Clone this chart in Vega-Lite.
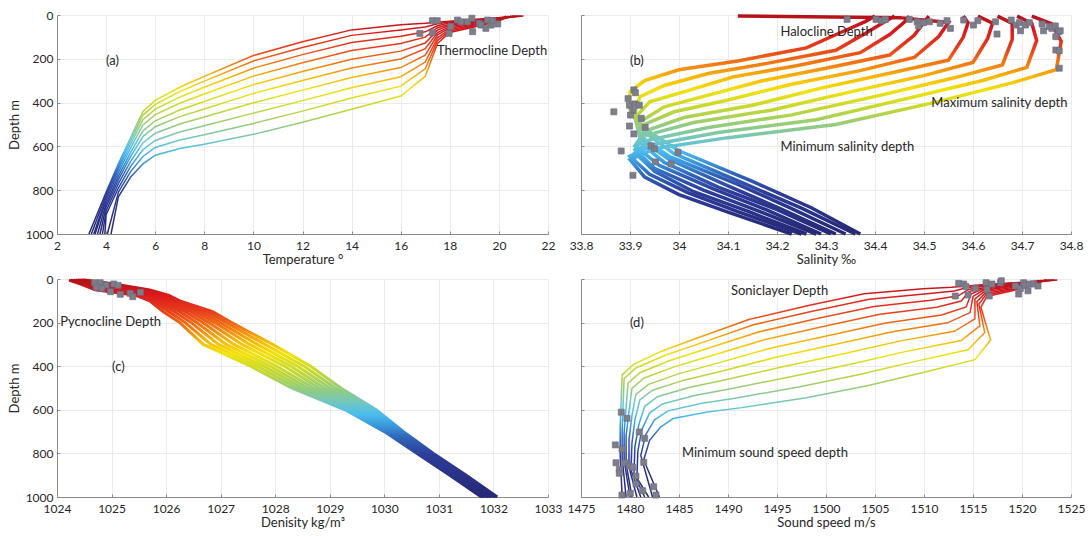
{
"$schema": "https://vega.github.io/schema/vega-lite/v6.json",
"background": "white",
"padding": {"left": 8, "top": 9, "right": 5, "bottom": 5},
"config": {
  "view": {"stroke": null},
  "font": "Lato",
  "axis": {"domainColor": "#8a8a8a", "tickColor": "#8a8a8a", "gridColor": "#ebebeb", "tickSize": -3,
           "labelFont": "Lato", "labelFontSize": 12, "labelColor": "#262626",
           "titleFont": "Lato", "titleFontSize": 13, "titleFontWeight": "normal", "titleColor": "#262626",
           "labelOverlap": false, "labelFlush": false}
},
"datasets": {
"ts": [
{"p":0,"d":5,"T":20.9,"C":1523.3},{"p":0,"d":12,"T":20,"C":1521.0},{"p":0,"d":20,"T":19,"C":1518.3},{"p":0,"d":28,"T":18,"C":1515.6},{"p":0,"d":33,"T":17.5,"C":1514.2},{"p":0,"d":38,"T":17,"C":1512.8},{"p":0,"d":45,"T":16,"C":1509.9},{"p":0,"d":68,"T":14,"C":1503.9},{"p":0,"d":122,"T":12,"C":1498.2},{"p":0,"d":185,"T":10,"C":1492.2},{"p":0,"d":280,"T":8,"C":1486.3},{"p":0,"d":330,"T":7,"C":1483.3},{"p":0,"d":390,"T":6,"C":1480.4},{"p":0,"d":440,"T":5.5,"C":1479.2},{"p":0,"d":560,"T":5,"C":1479.1},{"p":0,"d":680,"T":4.5,"C":1479.0},{"p":0,"d":810,"T":4,"C":1479.0},{"p":0,"d":1000,"T":3.3,"C":1479.2},
{"p":1,"d":5,"T":20.7,"C":1522.8},{"p":1,"d":13,"T":20,"C":1521.0},{"p":1,"d":22,"T":19,"C":1518.4},{"p":1,"d":32,"T":18,"C":1515.7},{"p":1,"d":40,"T":17.5,"C":1514.3},{"p":1,"d":55,"T":17,"C":1513.1},{"p":1,"d":68,"T":16,"C":1510.3},{"p":1,"d":93,"T":14,"C":1504.4},{"p":1,"d":148,"T":12,"C":1498.6},{"p":1,"d":210,"T":10,"C":1492.6},{"p":1,"d":302,"T":8,"C":1486.7},{"p":1,"d":350,"T":7,"C":1483.6},{"p":1,"d":408,"T":6,"C":1480.6},{"p":1,"d":457,"T":5.5,"C":1479.4},{"p":1,"d":573,"T":5,"C":1479.3},{"p":1,"d":691,"T":4.5,"C":1479.2},{"p":1,"d":820,"T":4,"C":1479.2},{"p":1,"d":1000,"T":3.4,"C":1479.6},
{"p":2,"d":5,"T":21.0,"C":1523.6},{"p":2,"d":15,"T":20,"C":1521.0},{"p":2,"d":26,"T":19,"C":1518.4},{"p":2,"d":36,"T":18,"C":1515.7},{"p":2,"d":49,"T":17.5,"C":1514.5},{"p":2,"d":77,"T":17,"C":1513.5},{"p":2,"d":97,"T":16,"C":1510.7},{"p":2,"d":126,"T":14,"C":1504.9},{"p":2,"d":181,"T":12,"C":1499.1},{"p":2,"d":243,"T":10,"C":1493.1},{"p":2,"d":330,"T":8,"C":1487.1},{"p":2,"d":375,"T":7,"C":1484.0},{"p":2,"d":430,"T":6,"C":1481.0},{"p":2,"d":478,"T":5.5,"C":1479.8},{"p":2,"d":589,"T":5,"C":1479.6},{"p":2,"d":704,"T":4.5,"C":1479.4},{"p":2,"d":832,"T":4,"C":1479.4},{"p":2,"d":1000,"T":3.5,"C":1480.0},
{"p":3,"d":5,"T":20.6,"C":1522.5},{"p":3,"d":16,"T":20,"C":1521.1},{"p":3,"d":29,"T":19,"C":1518.5},{"p":3,"d":42,"T":18,"C":1515.8},{"p":3,"d":58,"T":17.5,"C":1514.6},{"p":3,"d":101,"T":17,"C":1513.8},{"p":3,"d":130,"T":16,"C":1511.3},{"p":3,"d":162,"T":14,"C":1505.5},{"p":3,"d":218,"T":12,"C":1499.7},{"p":3,"d":279,"T":10,"C":1493.7},{"p":3,"d":361,"T":8,"C":1487.6},{"p":3,"d":403,"T":7,"C":1484.5},{"p":3,"d":455,"T":6,"C":1481.4},{"p":3,"d":502,"T":5.5,"C":1480.2},{"p":3,"d":607,"T":5,"C":1479.9},{"p":3,"d":719,"T":4.5,"C":1479.6},{"p":3,"d":846,"T":4,"C":1479.6},{"p":3,"d":1000,"T":3.55,"C":1480.2},
{"p":4,"d":5,"T":20.8,"C":1523.1},{"p":4,"d":18,"T":20,"C":1521.1},{"p":4,"d":33,"T":19,"C":1518.6},{"p":4,"d":47,"T":18,"C":1515.9},{"p":4,"d":69,"T":17.5,"C":1514.8},{"p":4,"d":128,"T":17,"C":1514.3},{"p":4,"d":165,"T":16,"C":1511.8},{"p":4,"d":202,"T":14,"C":1506.1},{"p":4,"d":258,"T":12,"C":1500.4},{"p":4,"d":318,"T":10,"C":1494.3},{"p":4,"d":395,"T":8,"C":1488.2},{"p":4,"d":434,"T":7,"C":1485.0},{"p":4,"d":483,"T":6,"C":1481.9},{"p":4,"d":529,"T":5.5,"C":1480.6},{"p":4,"d":627,"T":5,"C":1480.2},{"p":4,"d":736,"T":4.5,"C":1479.9},{"p":4,"d":862,"T":4,"C":1479.9},{"p":4,"d":1000,"T":3.65,"C":1480.7},
{"p":5,"d":5,"T":20.4,"C":1522.0},{"p":5,"d":20,"T":20,"C":1521.1},{"p":5,"d":37,"T":19,"C":1518.6},{"p":5,"d":53,"T":18,"C":1516.0},{"p":5,"d":80,"T":17.5,"C":1515.0},{"p":5,"d":154,"T":17,"C":1514.7},{"p":5,"d":201,"T":16,"C":1512.4},{"p":5,"d":242,"T":14,"C":1506.8},{"p":5,"d":299,"T":12,"C":1501.0},{"p":5,"d":358,"T":10,"C":1495.0},{"p":5,"d":429,"T":8,"C":1488.8},{"p":5,"d":464,"T":7,"C":1485.5},{"p":5,"d":510,"T":6,"C":1482.3},{"p":5,"d":555,"T":5.5,"C":1481.0},{"p":5,"d":646,"T":5,"C":1480.5},{"p":5,"d":752,"T":4.5,"C":1480.2},{"p":5,"d":877,"T":4,"C":1480.1},{"p":5,"d":1000,"T":3.75,"C":1481.1},
{"p":6,"d":5,"T":20.6,"C":1522.5},{"p":6,"d":22,"T":20,"C":1521.2},{"p":6,"d":41,"T":19,"C":1518.7},{"p":6,"d":59,"T":18,"C":1516.1},{"p":6,"d":91,"T":17.5,"C":1515.2},{"p":6,"d":183,"T":17,"C":1515.2},{"p":6,"d":240,"T":16,"C":1513.1},{"p":6,"d":285,"T":14,"C":1507.5},{"p":6,"d":343,"T":12,"C":1501.8},{"p":6,"d":401,"T":10,"C":1495.7},{"p":6,"d":466,"T":8,"C":1489.4},{"p":6,"d":498,"T":7,"C":1486.0},{"p":6,"d":540,"T":6,"C":1482.8},{"p":6,"d":584,"T":5.5,"C":1481.5},{"p":6,"d":668,"T":5,"C":1480.9},{"p":6,"d":770,"T":4.5,"C":1480.5},{"p":6,"d":894,"T":4,"C":1480.4},{"p":6,"d":1000,"T":3.85,"C":1481.5},
{"p":7,"d":5,"T":20.3,"C":1521.7},{"p":7,"d":24,"T":20,"C":1521.2},{"p":7,"d":46,"T":19,"C":1518.8},{"p":7,"d":66,"T":18,"C":1516.2},{"p":7,"d":104,"T":17.5,"C":1515.4},{"p":7,"d":215,"T":17,"C":1515.7},{"p":7,"d":282,"T":16,"C":1513.8},{"p":7,"d":332,"T":14,"C":1508.2},{"p":7,"d":391,"T":12,"C":1502.5},{"p":7,"d":448,"T":10,"C":1496.4},{"p":7,"d":506,"T":8,"C":1490.0},{"p":7,"d":534,"T":7,"C":1486.6},{"p":7,"d":573,"T":6,"C":1483.3},{"p":7,"d":615,"T":5.5,"C":1482.0},{"p":7,"d":691,"T":5,"C":1481.2},{"p":7,"d":790,"T":4.5,"C":1480.8},{"p":7,"d":912,"T":4,"C":1480.7},{"p":7,"d":1000,"T":3.95,"C":1481.9},
{"p":8,"d":5,"T":20.5,"C":1522.3},{"p":8,"d":26,"T":20,"C":1521.2},{"p":8,"d":50,"T":19,"C":1518.8},{"p":8,"d":73,"T":18,"C":1516.3},{"p":8,"d":116,"T":17.5,"C":1515.6},{"p":8,"d":246,"T":17,"C":1516.2},{"p":8,"d":325,"T":16,"C":1514.5},{"p":8,"d":379,"T":14,"C":1509.0},{"p":8,"d":439,"T":12,"C":1503.3},{"p":8,"d":495,"T":10,"C":1497.2},{"p":8,"d":547,"T":8,"C":1490.7},{"p":8,"d":571,"T":7,"C":1487.2},{"p":8,"d":605,"T":6,"C":1483.9},{"p":8,"d":646,"T":5.5,"C":1482.5},{"p":8,"d":715,"T":5,"C":1481.6},{"p":8,"d":809,"T":4.5,"C":1481.1},{"p":8,"d":1000,"T":4.05,"C":1482.3},
{"p":9,"d":5,"T":20.3,"C":1521.7},{"p":9,"d":28,"T":20,"C":1521.3},{"p":9,"d":55,"T":19,"C":1518.9},{"p":9,"d":80,"T":18,"C":1516.4},{"p":9,"d":130,"T":17.5,"C":1515.8},{"p":9,"d":280,"T":17,"C":1516.8},{"p":9,"d":370,"T":16,"C":1515.2},{"p":9,"d":430,"T":14,"C":1509.8},{"p":9,"d":490,"T":12,"C":1504.2},{"p":9,"d":545,"T":10,"C":1498.0},{"p":9,"d":590,"T":8,"C":1491.4},{"p":9,"d":610,"T":7,"C":1487.9},{"p":9,"d":640,"T":6,"C":1484.4},{"p":9,"d":680,"T":5.5,"C":1483.1},{"p":9,"d":740,"T":5,"C":1482.0},{"p":9,"d":830,"T":4.5,"C":1481.4},{"p":9,"d":1000,"T":4.2,"C":1483.0}
],
"sal": [
{"p":0,"d":5,"S":34.4},{"p":0,"d":30,"S":34.38},{"p":0,"d":80,"S":34.33},{"p":0,"d":150,"S":34.26},{"p":0,"d":210,"S":34.12},{"p":0,"d":250,"S":34.0},{"p":0,"d":300,"S":33.93},{"p":0,"d":350,"S":33.9},{"p":0,"d":430,"S":33.9},{"p":0,"d":520,"S":33.93},{"p":0,"d":620,"S":34.0},{"p":0,"d":760,"S":34.15},{"p":0,"d":880,"S":34.27},{"p":0,"d":1000,"S":34.37},
{"p":1,"d":5,"S":34.44},{"p":1,"d":31,"S":34.42},{"p":1,"d":84,"S":34.38},{"p":1,"d":161,"S":34.32},{"p":1,"d":221,"S":34.18},{"p":1,"d":267,"S":34.06},{"p":1,"d":322,"S":33.97},{"p":1,"d":373,"S":33.92},{"p":1,"d":450,"S":33.91},{"p":1,"d":535,"S":33.93},{"p":1,"d":633,"S":33.99},{"p":1,"d":767,"S":34.13},{"p":1,"d":882,"S":34.25},{"p":1,"d":1000,"S":34.36},
{"p":2,"d":5,"S":34.47},{"p":2,"d":32,"S":34.46},{"p":2,"d":89,"S":34.43},{"p":2,"d":172,"S":34.37},{"p":2,"d":232,"S":34.24},{"p":2,"d":283,"S":34.11},{"p":2,"d":344,"S":34.02},{"p":2,"d":396,"S":33.94},{"p":2,"d":470,"S":33.91},{"p":2,"d":551,"S":33.92},{"p":2,"d":646,"S":33.98},{"p":2,"d":773,"S":34.12},{"p":2,"d":884,"S":34.23},{"p":2,"d":1000,"S":34.34},
{"p":3,"d":5,"S":34.51},{"p":3,"d":33,"S":34.5},{"p":3,"d":93,"S":34.48},{"p":3,"d":183,"S":34.43},{"p":3,"d":243,"S":34.3},{"p":3,"d":300,"S":34.17},{"p":3,"d":366,"S":34.06},{"p":3,"d":419,"S":33.97},{"p":3,"d":489,"S":33.92},{"p":3,"d":566,"S":33.92},{"p":3,"d":660,"S":33.98},{"p":3,"d":780,"S":34.1},{"p":3,"d":887,"S":34.21},{"p":3,"d":1000,"S":34.32},
{"p":4,"d":5,"S":34.12},{"p":4,"d":12,"S":34.45},{"p":4,"d":34,"S":34.55},{"p":4,"d":98,"S":34.53},{"p":4,"d":194,"S":34.48},{"p":4,"d":254,"S":34.37},{"p":4,"d":316,"S":34.23},{"p":4,"d":388,"S":34.1},{"p":4,"d":442,"S":33.99},{"p":4,"d":509,"S":33.92},{"p":4,"d":582,"S":33.92},{"p":4,"d":673,"S":33.97},{"p":4,"d":786,"S":34.08},{"p":4,"d":889,"S":34.2},{"p":4,"d":1000,"S":34.31},
{"p":5,"d":5,"S":34.58},{"p":5,"d":36,"S":34.59},{"p":5,"d":102,"S":34.58},{"p":5,"d":206,"S":34.55},{"p":5,"d":266,"S":34.43},{"p":5,"d":334,"S":34.29},{"p":5,"d":412,"S":34.15},{"p":5,"d":468,"S":34.01},{"p":5,"d":531,"S":33.93},{"p":5,"d":598,"S":33.91},{"p":5,"d":687,"S":33.96},{"p":5,"d":794,"S":34.07},{"p":5,"d":891,"S":34.18},{"p":5,"d":1000,"S":34.29},
{"p":6,"d":5,"S":34.61},{"p":6,"d":37,"S":34.64},{"p":6,"d":107,"S":34.63},{"p":6,"d":217,"S":34.6},{"p":6,"d":277,"S":34.5},{"p":6,"d":351,"S":34.35},{"p":6,"d":434,"S":34.19},{"p":6,"d":491,"S":34.03},{"p":6,"d":551,"S":33.93},{"p":6,"d":614,"S":33.91},{"p":6,"d":700,"S":33.95},{"p":6,"d":800,"S":34.05},{"p":6,"d":893,"S":34.16},{"p":6,"d":1000,"S":34.28},
{"p":7,"d":5,"S":34.65},{"p":7,"d":38,"S":34.68},{"p":7,"d":111,"S":34.68},{"p":7,"d":228,"S":34.66},{"p":7,"d":288,"S":34.56},{"p":7,"d":367,"S":34.41},{"p":7,"d":456,"S":34.23},{"p":7,"d":514,"S":34.06},{"p":7,"d":570,"S":33.94},{"p":7,"d":629,"S":33.91},{"p":7,"d":714,"S":33.95},{"p":7,"d":807,"S":34.03},{"p":7,"d":896,"S":34.14},{"p":7,"d":1000,"S":34.26},
{"p":8,"d":5,"S":34.69},{"p":8,"d":39,"S":34.72},{"p":8,"d":116,"S":34.73},{"p":8,"d":239,"S":34.71},{"p":8,"d":299,"S":34.62},{"p":8,"d":384,"S":34.46},{"p":8,"d":478,"S":34.28},{"p":8,"d":537,"S":34.08},{"p":8,"d":590,"S":33.95},{"p":8,"d":645,"S":33.9},{"p":8,"d":727,"S":33.94},{"p":8,"d":813,"S":34.02},{"p":8,"d":898,"S":34.12},{"p":8,"d":1000,"S":34.25},
{"p":9,"d":5,"S":34.72},{"p":9,"d":40,"S":34.76},{"p":9,"d":120,"S":34.78},{"p":9,"d":250,"S":34.77},{"p":9,"d":310,"S":34.68},{"p":9,"d":400,"S":34.52},{"p":9,"d":500,"S":34.32},{"p":9,"d":560,"S":34.1},{"p":9,"d":610,"S":33.95},{"p":9,"d":660,"S":33.9},{"p":9,"d":740,"S":33.93},{"p":9,"d":820,"S":34.0},{"p":9,"d":900,"S":34.1},{"p":9,"d":1000,"S":34.23}
],
"den": [
{"p":0,"d":5,"D":1024.5},{"p":0,"d":25,"D":1025.1},{"p":0,"d":50,"D":1025.7},{"p":0,"d":75,"D":1026.05},{"p":0,"d":100,"D":1026.25},{"p":0,"d":150,"D":1026.85},{"p":0,"d":200,"D":1027.2},{"p":0,"d":300,"D":1027.95},{"p":0,"d":400,"D":1028.65},{"p":0,"d":500,"D":1029.2},{"p":0,"d":600,"D":1029.85},{"p":0,"d":700,"D":1030.35},{"p":0,"d":800,"D":1030.9},{"p":0,"d":900,"D":1031.5},{"p":0,"d":1000,"D":1032.07},
{"p":1,"d":5,"D":1024.47},{"p":1,"d":25,"D":1025.03},{"p":1,"d":50,"D":1025.59},{"p":1,"d":75,"D":1025.98},{"p":1,"d":100,"D":1026.19},{"p":1,"d":150,"D":1026.75},{"p":1,"d":200,"D":1027.1},{"p":1,"d":300,"D":1027.81},{"p":1,"d":400,"D":1028.53},{"p":1,"d":500,"D":1029.1},{"p":1,"d":600,"D":1029.79},{"p":1,"d":700,"D":1030.31},{"p":1,"d":800,"D":1030.87},{"p":1,"d":900,"D":1031.47},{"p":1,"d":1000,"D":1032.04},
{"p":2,"d":5,"D":1024.44},{"p":2,"d":25,"D":1024.96},{"p":2,"d":50,"D":1025.48},{"p":2,"d":75,"D":1025.92},{"p":2,"d":100,"D":1026.13},{"p":2,"d":150,"D":1026.65},{"p":2,"d":200,"D":1026.99},{"p":2,"d":300,"D":1027.67},{"p":2,"d":400,"D":1028.41},{"p":2,"d":500,"D":1029.0},{"p":2,"d":600,"D":1029.72},{"p":2,"d":700,"D":1030.27},{"p":2,"d":800,"D":1030.83},{"p":2,"d":900,"D":1031.43},{"p":2,"d":1000,"D":1032.01},
{"p":3,"d":5,"D":1024.41},{"p":3,"d":25,"D":1024.89},{"p":3,"d":50,"D":1025.37},{"p":3,"d":75,"D":1025.85},{"p":3,"d":100,"D":1026.07},{"p":3,"d":150,"D":1026.55},{"p":3,"d":200,"D":1026.89},{"p":3,"d":300,"D":1027.53},{"p":3,"d":400,"D":1028.29},{"p":3,"d":500,"D":1028.9},{"p":3,"d":600,"D":1029.66},{"p":3,"d":700,"D":1030.23},{"p":3,"d":800,"D":1030.8},{"p":3,"d":900,"D":1031.4},{"p":3,"d":1000,"D":1031.97},
{"p":4,"d":5,"D":1024.38},{"p":4,"d":25,"D":1024.81},{"p":4,"d":50,"D":1025.26},{"p":4,"d":75,"D":1025.79},{"p":4,"d":100,"D":1026.01},{"p":4,"d":150,"D":1026.45},{"p":4,"d":200,"D":1026.78},{"p":4,"d":300,"D":1027.39},{"p":4,"d":400,"D":1028.17},{"p":4,"d":500,"D":1028.8},{"p":4,"d":600,"D":1029.6},{"p":4,"d":700,"D":1030.2},{"p":4,"d":800,"D":1030.77},{"p":4,"d":900,"D":1031.37},{"p":4,"d":1000,"D":1031.94},
{"p":5,"d":5,"D":1024.34},{"p":5,"d":25,"D":1024.74},{"p":5,"d":50,"D":1025.14},{"p":5,"d":75,"D":1025.71},{"p":5,"d":100,"D":1025.94},{"p":5,"d":150,"D":1026.35},{"p":5,"d":200,"D":1026.67},{"p":5,"d":300,"D":1027.24},{"p":5,"d":400,"D":1028.03},{"p":5,"d":500,"D":1028.7},{"p":5,"d":600,"D":1029.53},{"p":5,"d":700,"D":1030.15},{"p":5,"d":800,"D":1030.73},{"p":5,"d":900,"D":1031.33},{"p":5,"d":1000,"D":1031.91},
{"p":6,"d":5,"D":1024.31},{"p":6,"d":25,"D":1024.66},{"p":6,"d":50,"D":1025.03},{"p":6,"d":75,"D":1025.65},{"p":6,"d":100,"D":1025.88},{"p":6,"d":150,"D":1026.25},{"p":6,"d":200,"D":1026.56},{"p":6,"d":300,"D":1027.1},{"p":6,"d":400,"D":1027.91},{"p":6,"d":500,"D":1028.6},{"p":6,"d":600,"D":1029.47},{"p":6,"d":700,"D":1030.12},{"p":6,"d":800,"D":1030.7},{"p":6,"d":900,"D":1031.3},{"p":6,"d":1000,"D":1031.88},
{"p":7,"d":5,"D":1024.28},{"p":7,"d":25,"D":1024.59},{"p":7,"d":50,"D":1024.92},{"p":7,"d":75,"D":1025.58},{"p":7,"d":100,"D":1025.82},{"p":7,"d":150,"D":1026.15},{"p":7,"d":200,"D":1026.46},{"p":7,"d":300,"D":1026.96},{"p":7,"d":400,"D":1027.79},{"p":7,"d":500,"D":1028.5},{"p":7,"d":600,"D":1029.41},{"p":7,"d":700,"D":1030.08},{"p":7,"d":800,"D":1030.67},{"p":7,"d":900,"D":1031.27},{"p":7,"d":1000,"D":1031.84},
{"p":8,"d":5,"D":1024.25},{"p":8,"d":25,"D":1024.52},{"p":8,"d":50,"D":1024.81},{"p":8,"d":75,"D":1025.52},{"p":8,"d":100,"D":1025.76},{"p":8,"d":150,"D":1026.05},{"p":8,"d":200,"D":1026.35},{"p":8,"d":300,"D":1026.82},{"p":8,"d":400,"D":1027.67},{"p":8,"d":500,"D":1028.4},{"p":8,"d":600,"D":1029.34},{"p":8,"d":700,"D":1030.04},{"p":8,"d":800,"D":1030.63},{"p":8,"d":900,"D":1031.23},{"p":8,"d":1000,"D":1031.81},
{"p":9,"d":5,"D":1024.22},{"p":9,"d":25,"D":1024.45},{"p":9,"d":50,"D":1024.7},{"p":9,"d":75,"D":1025.45},{"p":9,"d":100,"D":1025.7},{"p":9,"d":150,"D":1025.95},{"p":9,"d":200,"D":1026.25},{"p":9,"d":300,"D":1026.68},{"p":9,"d":400,"D":1027.55},{"p":9,"d":500,"D":1028.3},{"p":9,"d":600,"D":1029.28},{"p":9,"d":700,"D":1030.0},{"p":9,"d":800,"D":1030.6},{"p":9,"d":900,"D":1031.2},{"p":9,"d":1000,"D":1031.78}
],
"mk": [
{"g":"a","x":17.29,"d":26},{"g":"a","x":17.49,"d":26},{"g":"a","x":17.29,"d":81},{"g":"a","x":16.78,"d":84},{"g":"a","x":17.97,"d":84},{"g":"a","x":18.04,"d":53},{"g":"a","x":18.31,"d":23},{"g":"a","x":18.45,"d":31},{"g":"a","x":18.72,"d":31},{"g":"a","x":18.9,"d":15},{"g":"a","x":18.93,"d":76},{"g":"a","x":19.2,"d":38},{"g":"a","x":19.27,"d":46},{"g":"a","x":19.47,"d":61},{"g":"a","x":19.54,"d":23},{"g":"a","x":19.68,"d":46},{"g":"a","x":19.75,"d":26},{"g":"a","x":19.95,"d":41},
{"g":"b","x":33.908,"d":342},{"g":"b","x":33.911,"d":355},{"g":"b","x":33.896,"d":382},{"g":"b","x":33.899,"d":412},{"g":"b","x":33.91,"d":406},{"g":"b","x":33.919,"d":412},{"g":"b","x":33.906,"d":437},{"g":"b","x":33.901,"d":457},{"g":"b","x":33.867,"d":442},{"g":"b","x":33.923,"d":472},{"g":"b","x":33.931,"d":513},{"g":"b","x":33.899,"d":507},{"g":"b","x":33.908,"d":543},{"g":"b","x":33.943,"d":598},{"g":"b","x":33.95,"d":611},{"g":"b","x":33.882,"d":621},{"g":"b","x":33.998,"d":627},{"g":"b","x":33.952,"d":671},{"g":"b","x":33.984,"d":680},{"g":"b","x":33.906,"d":732},
{"g":"b","x":34.343,"d":20},{"g":"b","x":34.402,"d":20},{"g":"b","x":34.413,"d":26},{"g":"b","x":34.421,"d":20},{"g":"b","x":34.47,"d":20},{"g":"b","x":34.486,"d":31},{"g":"b","x":34.489,"d":50},{"g":"b","x":34.499,"d":35},{"g":"b","x":34.511,"d":31},{"g":"b","x":34.533,"d":38},{"g":"b","x":34.547,"d":26},{"g":"b","x":34.554,"d":61},{"g":"b","x":34.581,"d":23},{"g":"b","x":34.601,"d":46},{"g":"b","x":34.61,"d":26},{"g":"b","x":34.646,"d":31},{"g":"b","x":34.649,"d":87},{"g":"b","x":34.678,"d":23},{"g":"b","x":34.688,"d":46},{"g":"b","x":34.695,"d":35},{"g":"b","x":34.697,"d":72},{"g":"b","x":34.707,"d":46},{"g":"b","x":34.715,"d":35},{"g":"b","x":34.741,"d":41},{"g":"b","x":34.744,"d":72},{"g":"b","x":34.756,"d":53},{"g":"b","x":34.761,"d":61},{"g":"b","x":34.768,"d":50},{"g":"b","x":34.775,"d":76},{"g":"b","x":34.778,"d":72},{"g":"b","x":34.769,"d":99},{"g":"b","x":34.769,"d":160},{"g":"b","x":34.776,"d":163},{"g":"b","x":34.776,"d":243},
{"g":"c","x":1024.69,"d":17},{"g":"c","x":1024.79,"d":17},{"g":"c","x":1024.72,"d":38},{"g":"c","x":1024.9,"d":28},{"g":"c","x":1025.04,"d":23},{"g":"c","x":1025.12,"d":29},{"g":"c","x":1024.82,"d":43},{"g":"c","x":1024.98,"d":58},{"g":"c","x":1025.16,"d":70},{"g":"c","x":1025.34,"d":66},{"g":"c","x":1025.39,"d":81},{"g":"c","x":1025.53,"d":61},
{"g":"d","x":1513.54,"d":20},{"g":"d","x":1514.05,"d":23},{"g":"d","x":1514.29,"d":35},{"g":"d","x":1513.19,"d":78},{"g":"d","x":1514.49,"d":73},{"g":"d","x":1515.23,"d":43},{"g":"d","x":1516.33,"d":17},{"g":"d","x":1516.43,"d":47},{"g":"d","x":1516.66,"d":78},{"g":"d","x":1516.94,"d":23},{"g":"d","x":1517.79,"d":17},{"g":"d","x":1517.89,"d":8},{"g":"d","x":1519.32,"d":32},{"g":"d","x":1519.66,"d":69},{"g":"d","x":1519.83,"d":43},{"g":"d","x":1520.17,"d":17},{"g":"d","x":1520.34,"d":28},{"g":"d","x":1520.61,"d":54},{"g":"d","x":1520.74,"d":23},{"g":"d","x":1521.19,"d":23},{"g":"d","x":1521.63,"d":32},
{"g":"d","x":1479.11,"d":611},{"g":"d","x":1479.69,"d":639},{"g":"d","x":1480.95,"d":702},{"g":"d","x":1481.5,"d":731},{"g":"d","x":1478.5,"d":761},{"g":"d","x":1479.18,"d":780},{"g":"d","x":1478.57,"d":843},{"g":"d","x":1479.46,"d":843},{"g":"d","x":1479.93,"d":858},{"g":"d","x":1480.28,"d":864},{"g":"d","x":1478.91,"d":873},{"g":"d","x":1481.4,"d":841},{"g":"d","x":1480.61,"d":904},{"g":"d","x":1478.91,"d":891},{"g":"d","x":1480.61,"d":940},{"g":"d","x":1480.03,"d":983},{"g":"d","x":1481.3,"d":971},{"g":"d","x":1482.42,"d":953},{"g":"d","x":1482.65,"d":991},{"g":"d","x":1479.18,"d":991}
],
"txt": [
{"g":"a","x":4.0,"d":210,"t":"(a)"},{"g":"a","x":17.48,"d":164,"t":"Thermocline Depth"},
{"g":"b","x":33.9,"d":210,"t":"(b)"},{"g":"b","x":34.207,"d":76,"t":"Halocline Depth"},{"g":"b","x":34.515,"d":403,"t":"Maximum salinity depth"},{"g":"b","x":34.207,"d":604,"t":"Minimum salinity depth"},
{"g":"c","x":1024.06,"d":196,"t":"Pycnocline Depth"},{"g":"c","x":1025.01,"d":405,"t":"(c)"},
{"g":"d","x":1490.3,"d":54,"t":"Soniclayer Depth"},{"g":"d","x":1480.0,"d":200,"t":"(d)"},{"g":"d","x":1485.3,"d":800,"t":"Minimum sound speed depth"}
]
},
"bounds": "flush",
"columns": 2,
"spacing": {"row": 45, "column": 33},
"concat": [
 {"width": 491, "height": 219, "layer": [
  {"data": {"name": "ts"}, "mark": {"type": "line", "strokeWidth": 1.5, "stroke": {"gradient": "linear", "x1": 0, "y1": 0, "x2": 0, "y2": 1, "stops": [{"offset": 0, "color": "#b41218"}, {"offset": 0.07, "color": "#dc1a1c"}, {"offset": 0.15, "color": "#e8401a"}, {"offset": 0.22, "color": "#f27b12"}, {"offset": 0.28, "color": "#f7b808"}, {"offset": 0.34, "color": "#f2e20a"}, {"offset": 0.42, "color": "#c6d82e"}, {"offset": 0.5, "color": "#94cc7c"}, {"offset": 0.57, "color": "#6ec6c6"}, {"offset": 0.62, "color": "#4cbcec"}, {"offset": 0.67, "color": "#3a98dc"}, {"offset": 0.73, "color": "#3062b8"}, {"offset": 0.81, "color": "#2c3c98"}, {"offset": 1, "color": "#272775"}]}},
   "encoding": {
    "x": {"field": "T", "type": "quantitative", "scale": {"domain": [2, 22], "nice": false, "zero": false}, "axis": {"values": [2,4,6,8,10,12,14,16,18,20,22], "format": "d", "title": "Temperature °", "labelPadding": 9, "titlePadding": 2}},
    "y": {"field": "d", "type": "quantitative", "scale": {"domain": [0, 1000], "reverse": true, "nice": false, "zero": false}, "axis": {"values": [0,200,400,600,800,1000], "format": "d", "title": "Depth m", "labelPadding": 7, "titlePadding": 4}},
    "detail": {"field": "p", "type": "nominal"}, "order": {"field": "d", "type": "quantitative"}}},
  {"data": {"name": "mk"}, "transform": [{"filter": "datum.g == 'a'"}], "mark": {"type": "square", "size": 36, "fill": "#7f7f7f", "stroke": "#6a6a9c", "strokeWidth": 0.7, "opacity": 1},
   "encoding": {"x": {"field": "x", "type": "quantitative"}, "y": {"field": "d", "type": "quantitative"}}},
  {"data": {"name": "txt"}, "transform": [{"filter": "datum.g == 'a'"}], "mark": {"type": "text", "align": "left", "baseline": "middle", "font": "Lato", "fontSize": 13, "color": "#262626"},
   "encoding": {"x": {"field": "x", "type": "quantitative"}, "y": {"field": "d", "type": "quantitative"}, "text": {"field": "t"}}}
 ]},
 {"width": 490, "height": 219, "layer": [
  {"data": {"name": "sal"}, "mark": {"type": "line", "strokeWidth": 3.5, "stroke": {"gradient": "linear", "x1": 0, "y1": 0, "x2": 0, "y2": 1, "stops": [{"offset": 0, "color": "#b41218"}, {"offset": 0.07, "color": "#dc1a1c"}, {"offset": 0.15, "color": "#e8401a"}, {"offset": 0.22, "color": "#f27b12"}, {"offset": 0.28, "color": "#f7b808"}, {"offset": 0.34, "color": "#f2e20a"}, {"offset": 0.42, "color": "#c6d82e"}, {"offset": 0.5, "color": "#94cc7c"}, {"offset": 0.57, "color": "#6ec6c6"}, {"offset": 0.62, "color": "#4cbcec"}, {"offset": 0.67, "color": "#3a98dc"}, {"offset": 0.73, "color": "#3062b8"}, {"offset": 0.81, "color": "#2c3c98"}, {"offset": 1, "color": "#272775"}]}},
   "encoding": {
    "x": {"field": "S", "type": "quantitative", "scale": {"domain": [33.8, 34.8], "nice": false, "zero": false}, "axis": {"values": [33.8,33.9,34,34.1,34.2,34.3,34.4,34.5,34.6,34.7,34.8], "format": "~g", "title": "Salinity ‰", "labelPadding": 9, "titlePadding": 2}},
    "y": {"field": "d", "type": "quantitative", "scale": {"domain": [0, 1000], "reverse": true, "nice": false, "zero": false}, "axis": {"values": [0,200,400,600,800,1000], "labels": false, "title": null}},
    "detail": {"field": "p", "type": "nominal"}, "order": {"field": "d", "type": "quantitative"}}},
  {"data": {"name": "mk"}, "transform": [{"filter": "datum.g == 'b'"}], "mark": {"type": "square", "size": 36, "fill": "#7f7f7f", "stroke": "#6a6a9c", "strokeWidth": 0.7, "opacity": 1},
   "encoding": {"x": {"field": "x", "type": "quantitative"}, "y": {"field": "d", "type": "quantitative"}}},
  {"data": {"name": "txt"}, "transform": [{"filter": "datum.g == 'b'"}], "mark": {"type": "text", "align": "left", "baseline": "middle", "font": "Lato", "fontSize": 13, "color": "#262626"},
   "encoding": {"x": {"field": "x", "type": "quantitative"}, "y": {"field": "d", "type": "quantitative"}, "text": {"field": "t"}}}
 ]},
 {"width": 491, "height": 218, "layer": [
  {"data": {"name": "den"}, "mark": {"type": "line", "strokeWidth": 3, "stroke": {"gradient": "linear", "x1": 0, "y1": 0, "x2": 0, "y2": 1, "stops": [{"offset": 0, "color": "#b41218"}, {"offset": 0.07, "color": "#dc1a1c"}, {"offset": 0.15, "color": "#e8401a"}, {"offset": 0.22, "color": "#f27b12"}, {"offset": 0.28, "color": "#f7b808"}, {"offset": 0.34, "color": "#f2e20a"}, {"offset": 0.42, "color": "#c6d82e"}, {"offset": 0.5, "color": "#94cc7c"}, {"offset": 0.57, "color": "#6ec6c6"}, {"offset": 0.62, "color": "#4cbcec"}, {"offset": 0.67, "color": "#3a98dc"}, {"offset": 0.73, "color": "#3062b8"}, {"offset": 0.81, "color": "#2c3c98"}, {"offset": 1, "color": "#272775"}]}},
   "encoding": {
    "x": {"field": "D", "type": "quantitative", "scale": {"domain": [1024, 1033], "nice": false, "zero": false}, "axis": {"values": [1024,1025,1026,1027,1028,1029,1030,1031,1032,1033], "format": "d", "title": "Denisity kg/m³", "labelPadding": 9, "titlePadding": 2}},
    "y": {"field": "d", "type": "quantitative", "scale": {"domain": [0, 1000], "reverse": true, "nice": false, "zero": false}, "axis": {"values": [0,200,400,600,800,1000], "format": "d", "title": "Depth m", "labelPadding": 7, "titlePadding": 4}},
    "detail": {"field": "p", "type": "nominal"}, "order": {"field": "d", "type": "quantitative"}}},
  {"data": {"name": "mk"}, "transform": [{"filter": "datum.g == 'c'"}], "mark": {"type": "square", "size": 36, "fill": "#7f7f7f", "stroke": "#6a6a9c", "strokeWidth": 0.7, "opacity": 1},
   "encoding": {"x": {"field": "x", "type": "quantitative"}, "y": {"field": "d", "type": "quantitative"}}},
  {"data": {"name": "txt"}, "transform": [{"filter": "datum.g == 'c'"}], "mark": {"type": "text", "align": "left", "baseline": "middle", "font": "Lato", "fontSize": 13, "color": "#262626"},
   "encoding": {"x": {"field": "x", "type": "quantitative"}, "y": {"field": "d", "type": "quantitative"}, "text": {"field": "t"}}}
 ]},
 {"width": 490, "height": 218, "layer": [
  {"data": {"name": "ts"}, "mark": {"type": "line", "strokeWidth": 1.5, "stroke": {"gradient": "linear", "x1": 0, "y1": 0, "x2": 0, "y2": 1, "stops": [{"offset": 0, "color": "#b41218"}, {"offset": 0.07, "color": "#dc1a1c"}, {"offset": 0.15, "color": "#e8401a"}, {"offset": 0.22, "color": "#f27b12"}, {"offset": 0.28, "color": "#f7b808"}, {"offset": 0.34, "color": "#f2e20a"}, {"offset": 0.42, "color": "#c6d82e"}, {"offset": 0.5, "color": "#94cc7c"}, {"offset": 0.57, "color": "#6ec6c6"}, {"offset": 0.62, "color": "#4cbcec"}, {"offset": 0.67, "color": "#3a98dc"}, {"offset": 0.73, "color": "#3062b8"}, {"offset": 0.81, "color": "#2c3c98"}, {"offset": 1, "color": "#272775"}]}},
   "encoding": {
    "x": {"field": "C", "type": "quantitative", "scale": {"domain": [1475, 1525], "nice": false, "zero": false}, "axis": {"values": [1475,1480,1485,1490,1495,1500,1505,1510,1515,1520,1525], "format": "d", "title": "Sound speed m/s", "labelPadding": 9, "titlePadding": 2}},
    "y": {"field": "d", "type": "quantitative", "scale": {"domain": [0, 1000], "reverse": true, "nice": false, "zero": false}, "axis": {"values": [0,200,400,600,800,1000], "labels": false, "title": null}},
    "detail": {"field": "p", "type": "nominal"}, "order": {"field": "d", "type": "quantitative"}}},
  {"data": {"name": "mk"}, "transform": [{"filter": "datum.g == 'd'"}], "mark": {"type": "square", "size": 36, "fill": "#7f7f7f", "stroke": "#6a6a9c", "strokeWidth": 0.7, "opacity": 1},
   "encoding": {"x": {"field": "x", "type": "quantitative"}, "y": {"field": "d", "type": "quantitative"}}},
  {"data": {"name": "txt"}, "transform": [{"filter": "datum.g == 'd'"}], "mark": {"type": "text", "align": "left", "baseline": "middle", "font": "Lato", "fontSize": 13, "color": "#262626"},
   "encoding": {"x": {"field": "x", "type": "quantitative"}, "y": {"field": "d", "type": "quantitative"}, "text": {"field": "t"}}}
 ]}
]
}
